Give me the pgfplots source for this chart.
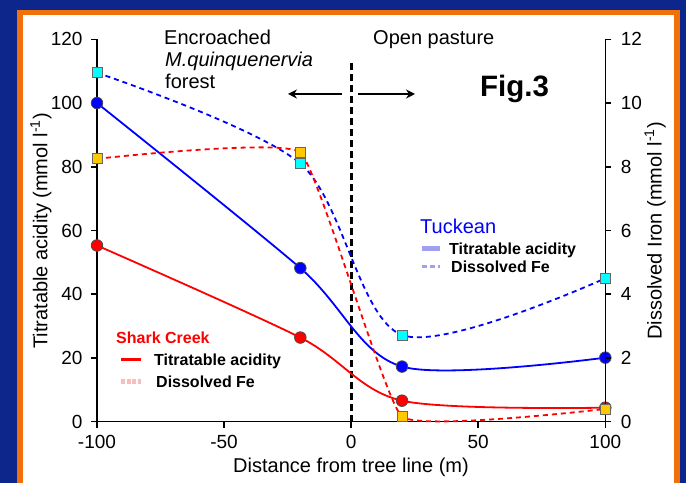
\documentclass[border=0pt]{standalone}
\usepackage{pgfplots}
\pgfplotsset{compat=1.18}
\usepackage{fontspec}
\setmainfont{Liberation Sans}
\usetikzlibrary{arrows.meta}
\definecolor{bgblue}{RGB}{12,38,140}
\definecolor{frameorange}{RGB}{240,112,10}
\definecolor{cyanfill}{RGB}{0,255,255}
\definecolor{goldfill}{RGB}{255,200,0}
\definecolor{legblue}{RGB}{160,160,240}
\definecolor{legpink}{RGB}{248,190,190}
\newcommand{\fs}[1]{\fontsize{#1bp}{#1bp}\selectfont}
\pgfplotsset{
  common/.style={
    scale only axis, width=508.3bp, height=382.4bp,
    at={(97bp,61.3bp)}, anchor=south west,
    xmin=-100, xmax=100,
    axis line style={line width=1.5bp, -},
    tick style={line width=1.5bp, black},
    tick align=outside, major tick length=6bp,
    tick label style={font=\fs{19}},
    clip=false,
  }
}
\begin{document}
\begin{tikzpicture}
\begin{scope}[x=1bp,y=1bp]
\path[use as bounding box] (0,0) rectangle (686,483);
\fill[bgblue] (0,0) rectangle (686,483);
\fill[frameorange] (17,0) rectangle (679.5,473);
\fill[white] (23,0) rectangle (674,468);
\end{scope}

% Left axis: titratable acidity
\begin{axis}[common,
  ymin=0, ymax=120,
  axis x line*=bottom, axis y line*=left,
  xtick={-100,-50,0,50,100}, xticklabels={-100,-50,0,50,100},
  ytick={0,20,40,60,80,100,120}, yticklabels={0,20,40,60,80,100,120},
  xticklabel style={yshift=-4bp},
  yticklabel style={xshift=-5bp},
]
\addplot[black, line width=3bp, dash pattern=on 7bp off 4bp] coordinates {(0,0) (0,113.8)};
% Tuckean titratable acidity
\addplot[blue, line width=1.8bp, smooth, mark=*, mark size=5.8bp,
  mark options={solid, fill=blue, draw=black!70, line width=0.8bp}]
  coordinates {(-100,100) (-20,48.2) (20,17.3) (100,20.1)};
% Shark Creek titratable acidity
\addplot[red, line width=1.8bp, smooth, mark=*, mark size=5.8bp,
  mark options={solid, fill=red, draw=black!70, line width=0.8bp}]
  coordinates {(-100,55.3) (-20,26.4) (20,6.6) (100,4.4)};
\end{axis}

% Right axis: dissolved iron
\begin{axis}[common,
  ymin=0, ymax=12,
  axis x line=none, axis y line*=right,
  ytick={0,2,4,6,8,10,12}, yticklabels={0,2,4,6,8,10,12},
  yticklabel style={xshift=6bp},
]
% Tuckean dissolved Fe
\addplot[blue, line width=1.8bp, smooth, dash pattern=on 5bp off 4bp, mark=square*, mark size=5bp,
  mark options={solid, fill=cyanfill, draw=black!60, line width=0.8bp}]
  coordinates {(-100,10.95) (-20,8.1) (20,2.72) (100,4.5)};
% Shark Creek dissolved Fe
\addplot[red, line width=1.8bp, smooth, tension=0.2, dash pattern=on 5bp off 4bp, mark=square*, mark size=5bp,
  mark options={solid, fill=goldfill, draw=black!60, line width=0.8bp}]
  coordinates {(-100,8.25) (-20,8.45) (20,0.16) (100,0.4)};
\end{axis}

\begin{scope}[x=1bp,y=1bp]
% top annotations
\node[anchor=base west, inner sep=0pt, font=\fs{20}] at (164,438) {Encroached};
\node[anchor=base west, inner sep=0pt, font=\fs{20}\itshape] at (165,416) {M.quinquenervia};
\node[anchor=base west, inner sep=0pt, font=\fs{20}] at (165,394) {forest};
\node[anchor=base west, inner sep=0pt, font=\fs{20}] at (373,438) {Open pasture};
\node[anchor=base west, inner sep=0pt, font=\fs{29.5}\bfseries] at (480,386.5) {Fig.3};
\draw[line width=1.6bp, -{Stealth[length=9bp,width=9bp]}] (342,389) -- (288,389);
\draw[line width=1.6bp, -{Stealth[length=9bp,width=9bp]}] (358,389) -- (415,389);
% Shark Creek legend
\node[anchor=base west, inner sep=0pt, font=\fs{16}\bfseries, text=red] at (116,139) {Shark Creek};
\draw[red, line width=3bp] (121,123) -- (141,123);
\node[anchor=base west, inner sep=0pt, font=\fs{16}\bfseries] at (154,117) {Titratable acidity};
\draw[legpink, line width=5bp, dash pattern=on 4bp off 1.5bp] (121,101) -- (141,101);
\node[anchor=base west, inner sep=0pt, font=\fs{16}\bfseries] at (156,95) {Dissolved Fe};
% Tuckean legend
\node[anchor=base west, inner sep=0pt, font=\fs{20}, text=blue] at (420,249) {Tuckean};
\draw[legblue, line width=5bp] (422,234) -- (440,234);
\node[anchor=base west, inner sep=0pt, font=\fs{16}\bfseries] at (449,228) {Titratable acidity};
\draw[legblue, line width=3bp, dash pattern=on 5bp off 3bp] (422,216) -- (440,216);
\node[anchor=base west, inner sep=0pt, font=\fs{16}\bfseries] at (451,210) {Dissolved Fe};
% axis labels
\node[rotate=90, inner sep=0pt, font=\fs{20}] at (41,252) {Titratable acidity (mmol l\textsuperscript{-1})};
\node[rotate=90, inner sep=0pt, font=\fs{20}] at (655,252) {Dissolved Iron (mmol l\textsuperscript{-1})};
\node[inner sep=0pt, font=\fs{20}] at (351,16) {Distance from tree line (m)};
\end{scope}
\end{tikzpicture}
\end{document}
